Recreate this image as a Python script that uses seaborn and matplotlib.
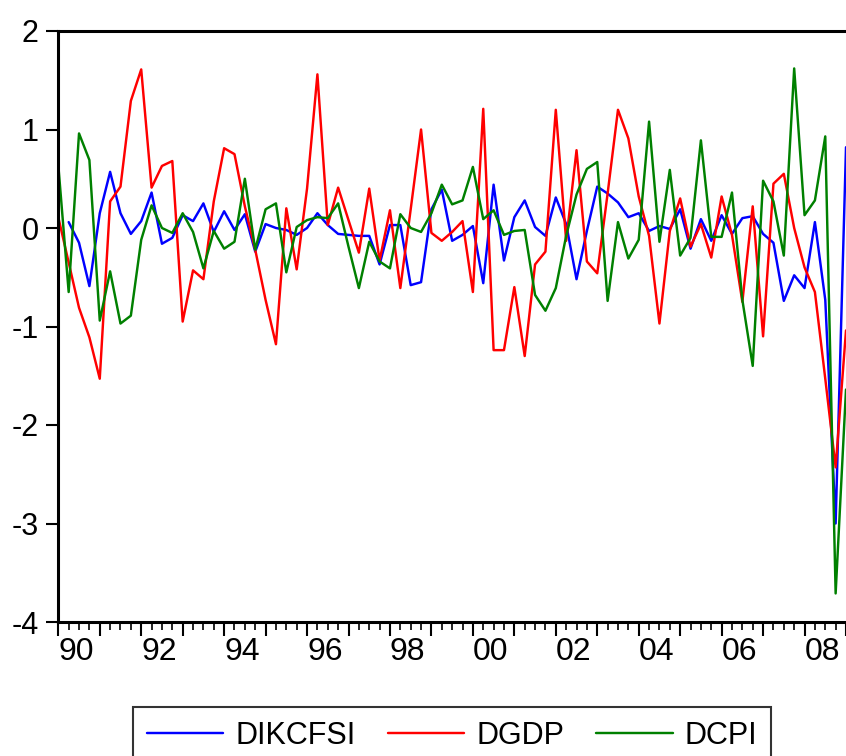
import numpy as np
import pandas as pd
import matplotlib
matplotlib.use("Agg")
import matplotlib.pyplot as plt
import seaborn as sns

# Quarterly observations 1990Q1 .. 2009Q1
start_year = 1990
n_obs = 77

dikcfsi = [np.nan, 0.06, -0.15, -0.59, 0.15, 0.57, 0.15, -0.06, 0.07, 0.36,
           -0.16, -0.10, 0.13, 0.07, 0.25, -0.04, 0.17, -0.02, 0.14, -0.24,
           0.04, 0.00, -0.02, -0.07, 0.00, 0.15, 0.03, -0.06, -0.07, -0.08,
           -0.08, -0.37, 0.03, 0.03, -0.58, -0.55, 0.19, 0.39, -0.13, -0.07,
           0.02, -0.56, 0.44, -0.33, 0.11, 0.28, 0.01, -0.08, 0.31, 0.04,
           -0.52, -0.03, 0.42, 0.35, 0.26, 0.11, 0.15, -0.03, 0.02, -0.01,
           0.19, -0.21, 0.09, -0.13, 0.13, -0.06, 0.10, 0.12, -0.06, -0.15,
           -0.74, -0.48, -0.61, 0.06, -0.73, -3.00, 0.82]

dgdp = [0.11, -0.35, -0.81, -1.11, -1.53, 0.27, 0.42, 1.29, 1.61, 0.41,
        0.63, 0.68, -0.95, -0.43, -0.52, 0.27, 0.81, 0.75, 0.22, -0.22,
        -0.73, -1.18, 0.20, -0.42, 0.40, 1.56, 0.03, 0.41, 0.08, -0.25,
        0.40, -0.33, 0.18, -0.61, 0.19, 1.00, -0.05, -0.13, -0.04, 0.07,
        -0.65, 1.21, -1.24, -1.24, -0.60, -1.30, -0.37, -0.24, 1.20, -0.13,
        0.79, -0.34, -0.46, 0.35, 1.20, 0.91, 0.32, -0.08, -0.97, -0.03,
        0.30, -0.19, 0.04, -0.30, 0.32, -0.07, -0.75, 0.22, -1.10, 0.45,
        0.55, 0.00, -0.40, -0.65, -1.53, -2.43, -1.04]

dcpi = [0.64, -0.65, 0.96, 0.69, -0.94, -0.44, -0.97, -0.89, -0.12, 0.23,
        0.00, -0.05, 0.15, -0.04, -0.41, -0.03, -0.21, -0.14, 0.50, -0.22,
        0.19, 0.25, -0.45, 0.01, 0.08, 0.11, 0.10, 0.25, -0.19, -0.61,
        -0.14, -0.34, -0.41, 0.14, 0.00, -0.04, 0.15, 0.44, 0.24, 0.28,
        0.62, 0.09, 0.18, -0.07, -0.03, -0.02, -0.68, -0.84, -0.61, -0.08,
        0.34, 0.60, 0.67, -0.74, 0.06, -0.31, -0.12, 1.08, -0.14, 0.59,
        -0.28, -0.10, 0.89, -0.09, -0.09, 0.36, -0.73, -1.40, 0.48, 0.27,
        -0.28, 1.62, 0.13, 0.28, 0.93, -3.71, -1.64]

series_names = ["DIKCFSI", "DGDP", "DCPI"]
series_colors = ["#0000ff", "#ff0000", "#008000"]
year_labels = ["90", "92", "94", "96", "98", "00", "02", "04", "06", "08"]
y_ticks = [-4, -3, -2, -1, 0, 1, 2]

t = start_year + np.arange(n_obs) / 4.0
df = pd.concat([
    pd.DataFrame({"t": t, "value": vals, "series": name})
    for name, vals in zip(series_names, [dikcfsi, dgdp, dcpi])
], ignore_index=True)

sns.set_style("white")
plt.rcParams["font.family"] = ["Liberation Sans", "DejaVu Sans"]
plt.rcParams["text.color"] = "black"
plt.rcParams["xtick.color"] = "black"
plt.rcParams["ytick.color"] = "black"
plt.rcParams["axes.labelcolor"] = "black"

fig = plt.figure(figsize=(8.46, 7.56), dpi=100)
ax = fig.add_axes([58.3 / 846, 1 - 622.0 / 756, 1 - 58.3 / 846, (622.0 - 31) / 756])

sns.lineplot(data=df, x="t", y="value", hue="series", hue_order=series_names,
             palette=series_colors, linewidth=1.75, ax=ax, legend=False,
             estimator=None, sort=False)

ax.set_xlim(start_year, start_year + (n_obs - 1) / 4.0)
ax.set_ylim(-4, 2)
ax.set_xlabel("")
ax.set_ylabel("")

# y axis
ax.set_yticks(y_ticks)
ax.set_yticklabels([str(v) for v in y_ticks])
ax.tick_params(axis="y", which="major", direction="out", length=9, width=1.5,
               pad=5, labelsize=22, left=True, colors="black", labelcolor="black")

# x axis: yearly major, quarterly minor
years = np.arange(start_year, start_year + 20)
ax.set_xticks(years)
lbls = []
for y in years:
    s = f"{y % 100:02d}"
    lbls.append(s if s in year_labels else "")
ax.set_xticklabels(lbls, ha="left")
ax.set_xticks([start_year + k / 4 for k in range(n_obs) if k % 4 != 0], minor=True)
ax.tick_params(axis="x", which="major", direction="out", length=10, width=1.5,
               pad=1, labelsize=23, bottom=True, colors="black", labelcolor="black")
ax.tick_params(axis="x", which="minor", direction="out", length=6, width=1.2,
               bottom=True, colors="black")
for lab in ax.get_xticklabels():
    lab.set_horizontalalignment("left")
    lab.set_x(lab.get_position()[0])

for side in ["left", "bottom", "top"]:
    ax.spines[side].set_visible(True)
    ax.spines[side].set_color("black")
    ax.spines[side].set_linewidth(2.2)
ax.spines["right"].set_visible(False)
ax.grid(False)

handles = [plt.Line2D([0], [0], color=c, lw=1.75) for c in series_colors]
leg = fig.legend(handles, series_names, loc="upper center",
                 bbox_to_anchor=(452 / 846, 1 - 707 / 756), ncol=3,
                 fontsize=22, frameon=True, fancybox=False, edgecolor="black",
                 handlelength=2.5, handletextpad=0.4, columnspacing=1.05,
                 borderpad=0.45, borderaxespad=0)
leg.get_frame().set_linewidth(1.5)
for txt in leg.get_texts():
    txt.set_color("black")

fig.savefig("out.png", dpi=100)
